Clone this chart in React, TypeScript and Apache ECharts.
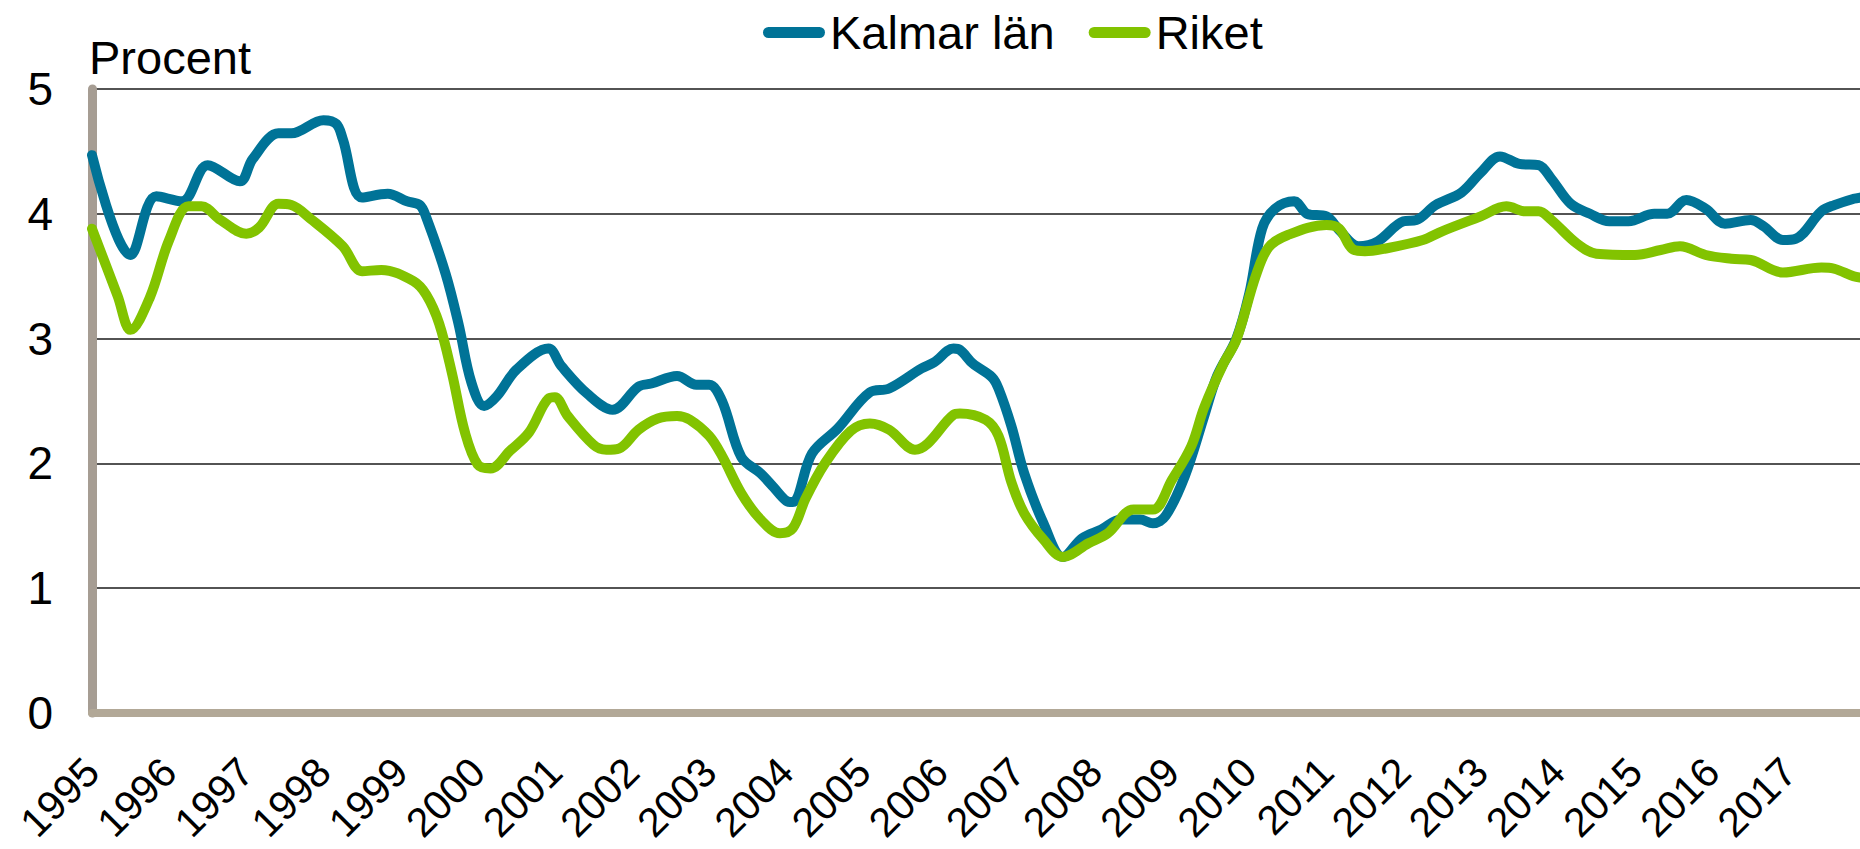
import React, { useEffect, useRef } from "react";
import * as echarts from "echarts";

const yearTicks = [1995, 2017];
const yTicks = [0, 1, 2, 3, 4, 5];
const seriesNames = ["Kalmar län", "Riket"];

const kalmarDates = [
  "1995-01","1995-07","1995-11","1996-03","1996-07","1996-12","1997-02","1997-06","1997-08","1998-01",
  "1998-03","1998-04","1998-07","1998-11","1999-02","1999-04","1999-05","1999-08","1999-10","1999-12",
  "2000-02","2000-04","2000-07","2000-12","2001-02","2001-06","2001-10","2002-02","2002-04","2002-08",
  "2002-11","2003-01","2003-03","2003-06","2003-09","2003-11","2004-01","2004-02","2004-05","2004-09",
  "2005-02","2005-05","2005-10","2005-12","2006-03","2006-04","2006-06","2006-09","2006-10","2006-12",
  "2007-02","2007-05","2007-08","2007-11","2008-02","2008-05","2008-08","2008-10","2008-12","2009-03",
  "2009-06","2009-08","2009-11","2010-01","2010-03","2010-05","2010-08","2010-10","2011-01","2011-03",
  "2011-06","2011-09","2012-01","2012-03","2012-06","2012-10","2013-01","2013-04","2013-07","2013-10",
  "2013-12","2014-03","2014-06","2014-09","2014-12","2015-04","2015-06","2015-09","2015-12","2016-03",
  "2016-07","2016-09","2016-12","2017-02","2017-06","2017-08","2017-11","2017-12"
];
const kalmarValues = [
  4.47,3.67,4.14,4.10,4.39,4.26,4.44,4.645,4.645,4.75,
  4.72,4.60,4.13,4.16,4.10,4.07,3.97,3.52,3.12,2.65,
  2.46,2.54,2.75,2.92,2.78,2.56,2.43,2.615,2.64,2.70,
  2.63,2.63,2.50,2.05,1.92,1.81,1.70,1.69,2.08,2.28,
  2.57,2.60,2.76,2.81,2.92,2.91,2.80,2.69,2.60,2.30,
  1.92,1.52,1.25,1.40,1.47,1.55,1.55,1.52,1.58,1.90,
  2.38,2.70,3.00,3.36,3.88,4.04,4.10,4.00,3.98,3.87,
  3.74,3.78,3.94,3.95,4.07,4.17,4.33,4.46,4.40,4.39,
  4.28,4.08,4.00,3.94,3.94,4.00,4.00,4.11,4.04,3.92,
  3.95,3.90,3.79,3.80,4.02,4.07,4.12,4.13
];

const riketDates = [
  "1995-01","1995-05","1995-07","1995-10","1996-01","1996-04","1996-06","1996-09","1997-01","1997-03",
  "1997-06","1997-08","1997-11","1998-04","1998-07","1998-10","1999-03","1999-05","1999-07","1999-09",
  "1999-11","2000-01","2000-03","2000-06","2000-09","2000-12","2001-01","2001-03","2001-07","2001-09",
  "2001-11","2002-02","2002-05","2002-08","2002-10","2003-01","2003-03","2003-06","2003-09","2003-12",
  "2004-02","2004-04","2004-07","2004-11","2005-02","2005-05","2005-09","2005-11","2006-03","2006-04",
  "2006-08","2006-10","2006-12","2007-02","2007-05","2007-08","2007-12","2008-03","2008-07","2008-10",
  "2009-01","2009-04","2009-06","2009-09","2009-11","2010-02","2010-04","2010-07","2011-01","2011-03",
  "2011-05","2011-07","2011-10","2012-04","2012-07","2013-01","2013-05","2013-08","2013-10","2013-12",
  "2014-04","2014-07","2015-01","2015-05","2015-08","2015-12","2016-04","2016-07","2016-12","2017-06",
  "2017-08","2017-11","2017-12"
];
const riketValues = [
  3.88,3.34,3.07,3.33,3.79,4.06,4.06,3.95,3.84,3.89,
  4.08,4.07,3.96,3.74,3.54,3.55,3.46,3.35,3.12,2.72,
  2.25,1.99,1.96,2.10,2.25,2.52,2.53,2.38,2.15,2.11,
  2.12,2.27,2.36,2.38,2.35,2.22,2.06,1.76,1.55,1.44,
  1.48,1.72,2.00,2.26,2.32,2.27,2.11,2.16,2.39,2.40,
  2.35,2.22,1.85,1.60,1.39,1.25,1.36,1.44,1.63,1.63,
  1.87,2.14,2.45,2.80,2.99,3.50,3.73,3.83,3.91,3.88,
  3.72,3.70,3.72,3.79,3.86,3.98,4.06,4.02,4.02,3.95,
  3.76,3.68,3.67,3.71,3.74,3.67,3.64,3.63,3.53,3.57,
  3.56,3.50,3.49
];

const lastMonth = "2017-12";

const toYear = (d: string) => {
  const [y, m] = d.split("-").map(Number);
  return y + (m - 1) / 12;
};

const FONT = "'Liberation Sans', Arial, sans-serif";
const BLUE = "#007397";
const GREEN = "#82c300";

export default function App() {
  const ref = useRef<HTMLDivElement>(null);
  useEffect(() => {
    if (!ref.current) return;
    const chart = echarts.init(ref.current, undefined, { renderer: "svg" });
    const kalmar = kalmarDates.map((d, i) => [toYear(d), kalmarValues[i]]);
    const riket = riketDates.map((d, i) => [toYear(d), riketValues[i]]);
    const pill = "path://M5.5,0 L56.5,0 A5.5,5.5 0 0 1 56.5,11 L5.5,11 A5.5,5.5 0 0 1 5.5,0 Z";
    chart.setOption({
      animation: false,
      backgroundColor: "#ffffff",
      textStyle: { fontFamily: FONT },
      grid: { left: 92, right: 0, top: 89, bottom: 136, containLabel: false },
      legend: {
        data: seriesNames.map((n) => ({ name: n, icon: pill })),
        left: 763,
        top: 9,
        padding: 0,
        itemWidth: 62,
        itemHeight: 11,
        itemGap: 34,
        textStyle: { fontSize: 47, color: "#000", fontFamily: FONT },
      },
      graphic: [
        {
          type: "text",
          left: 89,
          top: 34,
          style: { text: "Procent", fontSize: 47, fill: "#000", fontFamily: FONT },
        },
      ],
      xAxis: {
        type: "value",
        min: yearTicks[0],
        max: toYear(lastMonth),
        interval: 1,
        axisLine: { show: true, onZero: false, lineStyle: { color: "#b2a897", width: 8 } },
        axisTick: { show: false },
        splitLine: { show: false },
        axisLabel: {
          rotate: 45,
          margin: 52,
          fontSize: 41,
          color: "#000",
          fontFamily: FONT,
          showMaxLabel: false,
          formatter: (v: number) => (Number.isInteger(v) && v <= yearTicks[1] ? String(v) : ""),
        },
      },
      yAxis: {
        type: "value",
        min: yTicks[0],
        max: yTicks[yTicks.length - 1],
        interval: 1,
        axisLine: { show: true, lineStyle: { color: "#a69d93", width: 9 } },
        axisTick: { show: false },
        splitLine: { show: true, lineStyle: { color: "#1a1a1a", width: 1.5 } },
        axisLabel: { margin: 39, fontSize: 46, color: "#000", fontFamily: FONT },
      },
      series: [
        {
          name: seriesNames[0],
          type: "line",
          data: kalmar,
          smooth: 0.35,
          showSymbol: false,
          color: BLUE,
          lineStyle: { color: BLUE, width: 10, cap: "round", join: "round" },
          z: 3,
        },
        {
          name: seriesNames[1],
          type: "line",
          data: riket,
          smooth: 0.35,
          showSymbol: false,
          color: GREEN,
          lineStyle: { color: GREEN, width: 10, cap: "round", join: "round" },
          z: 4,
        },
      ],
    });
    return () => chart.dispose();
  }, []);
  return (
    <div
      ref={ref}
      style={{ position: "absolute", left: 0, top: 0, width: 1860, height: 849, background: "#fff" }}
    />
  );
}
